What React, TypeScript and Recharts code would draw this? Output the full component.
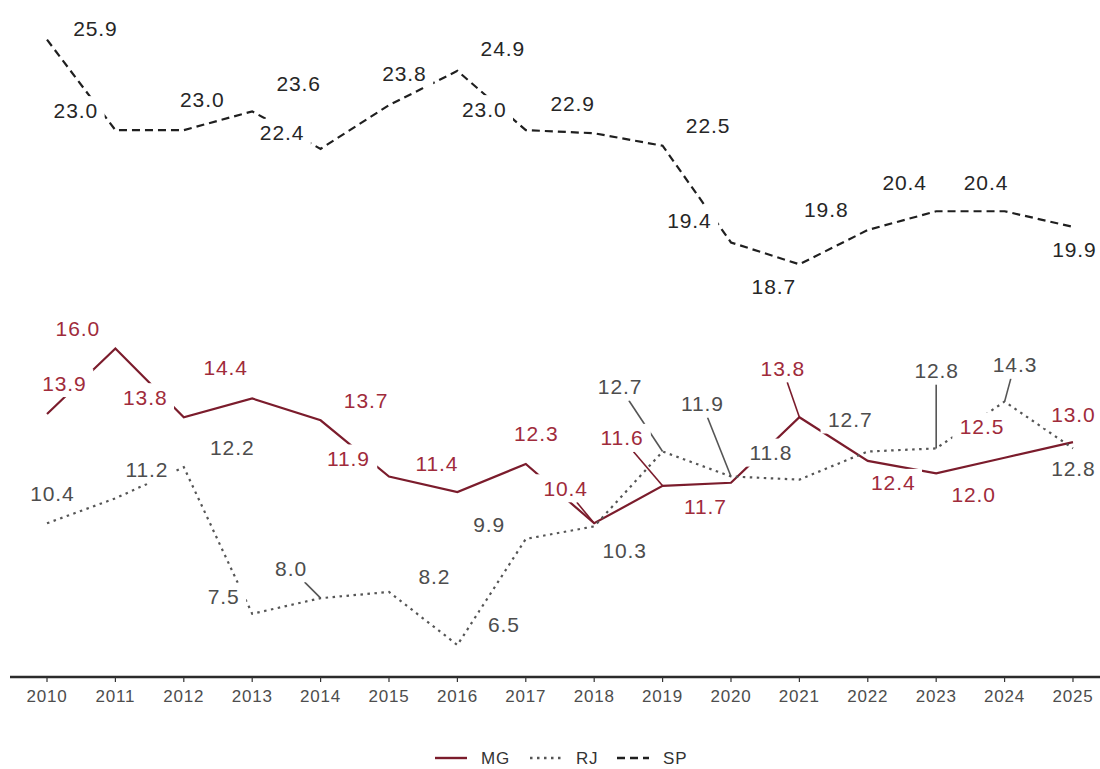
import React from "react";
import { Line, LineChart, XAxis, YAxis } from "recharts";

const YEARS = [2010, 2011, 2012, 2013, 2014, 2015, 2016, 2017, 2018, 2019, 2020, 2021, 2022, 2023, 2024, 2025];
const MG = [13.9, 16.0, 13.8, 14.4, 13.7, 11.9, 11.4, 12.3, 10.4, 11.6, 11.7, 13.8, 12.4, 12.0, 12.5, 13.0];
const RJ = [10.4, 11.2, 12.2, 7.5, 8.0, 8.2, 6.5, 9.9, 10.3, 12.7, 11.9, 11.8, 12.7, 12.8, 14.3, 12.8];
const SP = [25.9, 23.0, 23.0, 23.6, 22.4, 23.8, 24.9, 23.0, 22.9, 22.5, 19.4, 18.7, 19.8, 20.4, 20.4, 19.9];

// where the repelled labels ended up, px offset from their point
const MG_LABEL_OFFSET: [number, number][] = [
  [17, -31], [-38, -20], [-39, -20], [-27, -31], [45, -20], [-41, -18], [-21, -29], [10, -31],
  [-29, -35], [-41, -48], [-26, 24], [-17, -49], [25, 22], [37, 21], [-23, -31], [0, -28],
];
const RJ_LABEL_OFFSET: [number, number][] = [
  [5, -30], [31, -29], [48, -20], [-29, -17], [-30, -30], [45, -15], [46, -20], [-37, -14],
  [30, 24], [-43, -65], [-29, -73], [-29, -27], [-18, -32], [0, -78], [10, -37], [0, 20],
];
const SP_LABEL_OFFSET: [number, number][] = [
  [48, -11], [-40, -20], [18, -31], [46, -28], [-39, -16], [15, -32], [45, -22], [-42, -21],
  [-22, -30], [45, -20], [-42, -22], [-26, 22], [-42, -20], [-32, -29], [-19, -29], [1, 23],
];
// labels that got a leader segment
const MG_SEGMENT_YEARS = [2018, 2019, 2021];
const RJ_SEGMENT_YEARS = [2014, 2019, 2020, 2023, 2024];
const SP_SEGMENT_YEARS: number[] = [];

const SERIES = ["MG", "RJ", "SP"];

const FONT = "'Liberation Sans', Arial, Helvetica, sans-serif";
const LABEL_SIZE = 21;
const LABEL_SPACING = 0.9;

const data = YEARS.map((year, i) => ({ year, MG: MG[i], RJ: RJ[i], SP: SP[i] }));

const STYLE: Record<string, { line: string; text: string; dash?: string }> = {
  MG: { line: "#7b1c2c", text: "#a02b3b" },
  RJ: { line: "#555555", text: "#4d4d4d", dash: "2.5 4.5" },
  SP: { line: "#1f1f1f", text: "#262626", dash: "8 5" },
};

function textWidth(s: string) {
  let w = 0;
  for (const ch of s) w += (ch === "." ? 0.278 : 0.556) * LABEL_SIZE + LABEL_SPACING;
  return w;
}

function labelLayer(name: string, offsets: [number, number][], segYears: number[], phase: "seg" | "box") {
  return (p: any) => {
    const { cx, cy, index, value } = p;
    const key = `${name}-${phase}-${index}`;
    if (cx == null || cy == null) return <g key={key} />;
    const [dx, dy] = offsets[index];
    const lx = cx + dx;
    const ly = cy + dy;
    const txt = Number(value).toFixed(1);
    const hw = textWidth(txt) / 2 + 7;
    const hh = 14;
    if (phase === "seg") {
      if (!segYears.includes(YEARS[index])) return <g key={key} />;
      const t = Math.min(dx === 0 ? Infinity : hw / Math.abs(dx), dy === 0 ? Infinity : hh / Math.abs(dy));
      if (t >= 1) return <g key={key} />;
      return (
        <line
          key={key}
          x1={cx}
          y1={cy}
          x2={lx - dx * t}
          y2={ly - dy * t}
          stroke={STYLE[name].line}
          strokeWidth={1.6}
        />
      );
    }
    return (
      <g key={key}>
        <rect x={lx - hw} y={ly - hh} width={hw * 2} height={hh * 2} fill="#ffffff" />
        <text
          x={lx + LABEL_SPACING / 2}
          y={ly}
          textAnchor="middle"
          dominantBaseline="central"
          fontFamily={FONT}
          fontSize={LABEL_SIZE}
          letterSpacing={LABEL_SPACING}
          fill={STYLE[name].text}
        >
          {txt}
        </text>
      </g>
    );
  };
}

const OFFSETS: Record<string, [number, number][]> = { MG: MG_LABEL_OFFSET, RJ: RJ_LABEL_OFFSET, SP: SP_LABEL_OFFSET };
const SEGMENTS: Record<string, number[]> = { MG: MG_SEGMENT_YEARS, RJ: RJ_SEGMENT_YEARS, SP: SP_SEGMENT_YEARS };

function LegendRow() {
  const items = [
    { name: SERIES[0], x: 435 },
    { name: SERIES[1], x: 530 },
    { name: SERIES[2], x: 617 },
  ];
  return (
    <svg width={1100} height={29} style={{ position: "absolute", left: 0, top: 740 }}>
      {items.map((it) => (
        <g key={it.name}>
          <line
            x1={it.x}
            x2={it.x + 32}
            y1={18}
            y2={18}
            stroke={STYLE[it.name].line}
            strokeWidth={2.4}
            strokeDasharray={STYLE[it.name].dash}
          />
          <text
            x={it.x + 46}
            y={18}
            dominantBaseline="central"
            fontFamily={FONT}
            fontSize={17}
            letterSpacing={0.8}
            fill="#333333"
          >
            {it.name}
          </text>
        </g>
      ))}
    </svg>
  );
}

export default function App() {
  return (
    <div style={{ position: "absolute", left: 0, top: 0, width: 1100, height: 769, background: "#ffffff" }}>
      <LineChart width={1100} height={769} data={data} margin={{ top: 5, right: 0, left: 10, bottom: 62 }}>
        <XAxis
          dataKey="year"
          type="number"
          domain={[2009.459, 2025.395]}
          ticks={YEARS}
          interval={0}
          tickSize={5}
          tickMargin={8}
          axisLine={{ stroke: "#2b2b2b", strokeWidth: 2.4 }}
          tickLine={{ stroke: "#333333", strokeWidth: 1.2 }}
          tick={{ fontSize: 17, fill: "#4d4d4d", fontFamily: FONT, letterSpacing: 0.8 }}
        />
        <YAxis hide type="number" domain={[5.474, 27.01]} />
        {SERIES.map((s) => (
          <Line
            key={`line-${s}`}
            type="linear"
            dataKey={s}
            stroke={STYLE[s].line}
            strokeWidth={2.2}
            strokeDasharray={STYLE[s].dash}
            dot={false}
            activeDot={false}
            legendType="none"
            isAnimationActive={false}
          />
        ))}
        {SERIES.map((s) => (
          <Line
            key={`seg-${s}`}
            type="linear"
            dataKey={s}
            stroke="none"
            dot={labelLayer(s, OFFSETS[s], SEGMENTS[s], "seg")}
            activeDot={false}
            legendType="none"
            isAnimationActive={false}
          />
        ))}
        {SERIES.map((s) => (
          <Line
            key={`box-${s}`}
            type="linear"
            dataKey={s}
            stroke="none"
            dot={labelLayer(s, OFFSETS[s], SEGMENTS[s], "box")}
            activeDot={false}
            legendType="none"
            isAnimationActive={false}
          />
        ))}
      </LineChart>
      <LegendRow />
    </div>
  );
}
